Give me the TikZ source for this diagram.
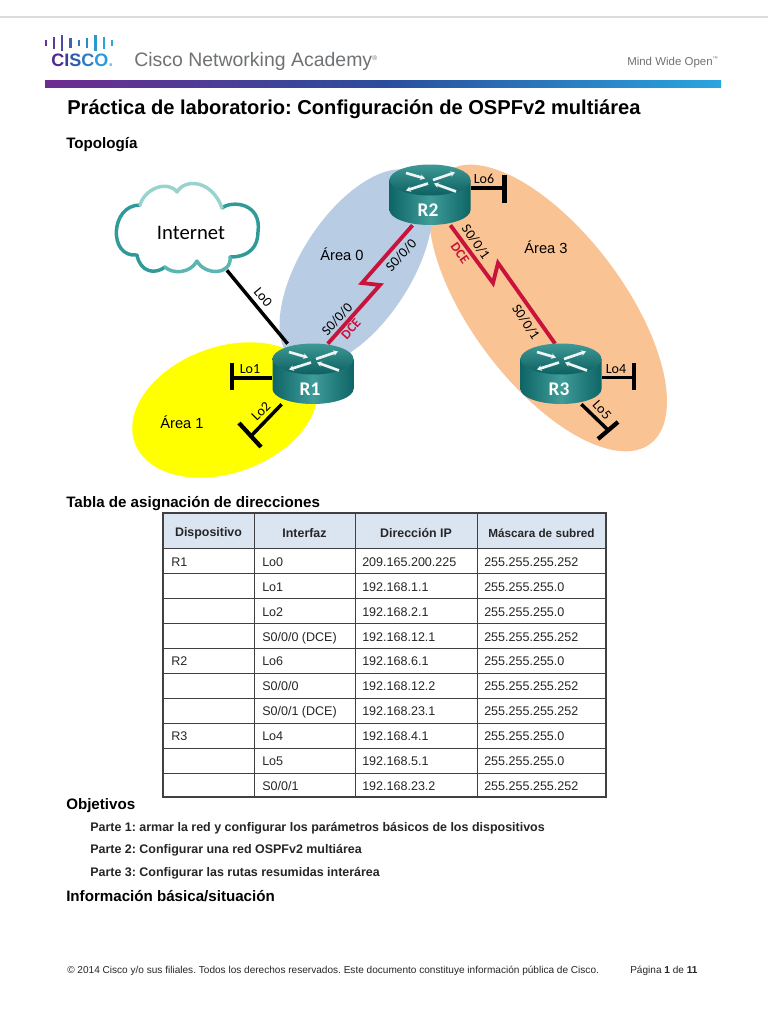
\documentclass[tikz,border=0pt]{standalone}
\usepackage{fontspec}
\setmainfont{Liberation Sans}
\newfontfamily\dfont{Carlito}
\usetikzlibrary{shapes.geometric,arrows.meta,calc}
\definecolor{lred}{HTML}{C8133A}
\definecolor{hdrfill}{HTML}{DBE5F1}
\definecolor{gr}{HTML}{6F7275}
\definecolor{rdark}{HTML}{0E6566}
\definecolor{rmid}{HTML}{3F9C99}
\definecolor{rtop}{HTML}{1C8782}
\definecolor{barA}{HTML}{6E2C8F}
\definecolor{barB}{HTML}{2A4D9C}
\definecolor{barC}{HTML}{2AA5DF}
\definecolor{areaO}{HTML}{F9C394}
\definecolor{areaB}{HTML}{B8CCE4}
\definecolor{areaY}{HTML}{FFFF00}
\definecolor{clA}{HTML}{2F9A98}
\definecolor{clB}{HTML}{5CB5B1}
\definecolor{clC}{HTML}{9AD3CE}
\tikzset{
  x=0.75pt,y=-0.75pt,
  areashape/.style={ellipse,inner sep=0pt,draw=none},
  routerbox/.style={rectangle,inner sep=0pt,minimum width=60.75pt,minimum height=45pt},
  cloudbox/.style={rectangle,inner sep=0pt,minimum width=106pt,minimum height=66pt},
  eth/.style={line width=2.6pt,black},
  tbar/.style={line width=3.2pt,black},
  serial/.style={line width=2.9pt,lred,line join=miter},
  dlabel/.style={font=\dfont\fontsize{10.5}{11}\selectfont,inner sep=0pt,text=black},
  dcelabel/.style={font=\dfont\bfseries\fontsize{10}{11}\selectfont,inner sep=0pt,text=lred},
  arealabel/.style={font=\fontsize{11}{12}\selectfont,inner sep=0pt},
  rlabel/.style={font=\dfont\bfseries\fontsize{14.5}{15}\selectfont,text=white,inner sep=0pt},
  rarrow/.style={white!92!teal,line width=2pt,-{Stealth[length=3.5pt,width=4.2pt]}},
  head/.style={anchor=base west,inner sep=0pt,font=\bfseries\fontsize{11.35}{13}\selectfont},
  parte/.style={anchor=base west,inner sep=0pt,font=\bfseries\fontsize{9.35}{11}\selectfont,text=black!85},
  cell/.style={anchor=base west,inner sep=0pt,font=\fontsize{9.4}{11}\selectfont,text=black!85},
  hcell/.style={anchor=center,inner sep=0pt,font=\bfseries\fontsize{9.3}{11}\selectfont,text=black!85},
  foot/.style={anchor=base west,inner sep=0pt,font=\fontsize{7.55}{9}\selectfont,text=black!85},
  cloudline/.style={line width=2.6pt,color=#1,line cap=round,line join=round},
  tline/.style={black!75,line width=0.75pt}
}
\newcommand{\routerdraw}[1]{%
  \begin{scope}[shift={(#1.center)}]
    \path[left color=rdark,right color=rdark,middle color=rmid]
      (-40.5,-15) -- (-40.5,15) arc[start angle=180,end angle=360,x radius=40.5,y radius=-15]
      -- (40.5,-15) -- cycle;
    \path[top color=rtop!85!white,bottom color=rdark!95!black]
      (0,-15) ellipse[x radius=40.5,y radius=15.5];
    \draw[rarrow] (-24,-22) -- (-5,-16.5);
    \draw[rarrow] (3,-15) -- (25,-22.5);
    \draw[rarrow] (-2,-11.5) -- (-24,-4.5);
    \draw[rarrow] (26,-3.5) -- (4,-11.5);
  \end{scope}}
\frenchspacing
\begin{document}
\begin{tikzpicture}
\useasboundingbox (0,0) rectangle (768,1024);
\fill[white] (0,0) rectangle (768,1024);
% header
\fill[black!14] (0,16.5) rectangle (768,18);
\foreach \bx/\bh/\bc in {46/6/6B2F95,54/12/5C3A9E,62/16/4B4AA6,70.7/10/3D63B2,79/6/3577BC,87/10/2F8BC8,95.7/16/2C98D2,104/12/2AA2DA,112/6/29A9E0}{
  \definecolor{tmpc}{HTML}{\bc}
  \fill[tmpc] (\bx-1.3,42.7-\bh/2) rectangle (\bx+1.3,42.7+\bh/2);
}
\definecolor{lgA}{HTML}{4F2A8E}\definecolor{lgB}{HTML}{3B3C98}\definecolor{lgC}{HTML}{2F5CAB}\definecolor{lgD}{HTML}{2B7CC2}\definecolor{lgE}{HTML}{2A9AD8}
\node (ciscotxt) [anchor=base west,inner sep=0pt,font=\bfseries\fontsize{13.5}{14}\selectfont] at (51,67)
  {\addfontfeatures{LetterSpace=9}\textcolor{lgA}{C}\textcolor{lgB}{I}\textcolor{lgC}{S}\textcolor{lgD}{C}\textcolor{lgE}{O}\textcolor{lgE!60}{.}};
\node (academy) [anchor=base west,inner sep=0pt,text=gr,font=\fontsize{14.6}{16}\selectfont] at (134,67) {Cisco Networking Academy\textsuperscript{\tiny ®}};
\node (mind) [anchor=base west,inner sep=0pt,text=gr,font=\fontsize{8.6}{10}\selectfont] at (627,66) {Mind Wide Open\textsuperscript{\fontsize{4}{4}\selectfont ™}};
\path[left color=barA,right color=barC,middle color=barB] (45,80.5) rectangle (721,88);
\node (title) [head,font=\bfseries\fontsize{15.08}{17}\selectfont] at (67,114) {Práctica de laboratorio: Configuración de OSPFv2 multiárea};
\node (topo) [head] at (66,148) {Topología};
% areas
\node (area3) [areashape,fill=areaO,rotate=-53,minimum width=255pt,minimum height=114pt] at (548,308) {};
\node (area0) [areashape,fill=areaB,rotate=57,minimum width=168pt,minimum height=82.5pt] at (356,268) {};
\node (area1) [areashape,fill=areaY,rotate=20,minimum width=144pt,minimum height=94.5pt] at (225,410) {};
% anchors for routers and cloud
\node (R1) [routerbox] at (313,374) {};
\node (R2) [routerbox] at (430,195) {};
\node (R3) [routerbox] at (561,374) {};
\node (cloud) [cloudbox] at (187,226) {};
% cloud outline
\draw[cloudline=clA] (165,267) .. controls (155,275) and (140,272) .. (137,255)
   .. controls (108,258) and (110,205) .. (140,205);
\draw[cloudline=clA] (222,208) .. controls (232,200) and (262,203) .. (258,232)
   .. controls (258,246) and (250,257) .. (230,257);
\draw[cloudline=clC] (140,205) .. controls (145,188) and (168,180) .. (177,192)
   .. controls (185,178) and (212,180) .. (222,208);
\draw[cloudline=clB] (230,257) .. controls (232,275) and (205,276) .. (197,261)
   .. controls (190,274) and (172,274) .. (165,267);
\node (inet) [dlabel,font=\dfont\fontsize{15.5}{16}\selectfont] at (191,233) {Internet};
% connectors
\draw[eth] (cloud.-48) -- (R1.130);
\coordinate (z1) at (380,285);
\coordinate (z2) at (362,283);
\coordinate (z3) at (498,263);
\coordinate (z4) at (493,283);
\draw[serial] (R1.64) -- (z1) -- (z2) -- (R2.240);
\draw[serial] (R2.-56) -- (z4) -- (z3) -- (R3.101);
\coordinate (t1) at (232,378);
\coordinate (t2) at (252,435);
\coordinate (t6) at (504.6,188);
\coordinate (t4) at (634,377.5);
\coordinate (t5) at (608,430);
\draw[eth] (R1.west |- t1) -- (t1);
\draw[eth] (R1.-136) -- (t2);
\draw[eth] (R2.east |- t6) -- (t6);
\draw[eth] (R3.east |- t4) -- (t4);
\draw[eth] (R3.-56) -- (t5);
\draw[tbar] (232,363) -- (232,390);
\draw[tbar] (239,423) -- (261,447);
\draw[tbar] (504.6,175) -- (504.6,203);
\draw[tbar] (634,363) -- (634,390);
\draw[tbar] (598,439) -- (618,422);
\routerdraw{R1}
\routerdraw{R2}
\routerdraw{R3}
\node (r1t) [rlabel] at (310,389) {R1};
\node (r2t) [rlabel] at (428,210) {R2};
\node (r3t) [rlabel] at (559,389) {R3};
% labels
\node (l0) [dlabel,rotate=-50] at (263,297) {Lo0};
\node (l1) [dlabel] at (250,369) {Lo1};
\node (l2) [dlabel,rotate=45] at (261,411) {Lo2};
\node (l6) [dlabel] at (484,179) {Lo6};
\node (l4) [dlabel] at (616,369) {Lo4};
\node (l5) [dlabel,rotate=-48] at (602,410) {Lo5};
\node (s1) [dlabel,rotate=48] at (337,319) {S0/0/0};
\node (d1) [dcelabel,rotate=48] at (351,329) {DCE};
\node (s2) [dlabel,rotate=48] at (401,255) {S0/0/0};
\node (s3) [dlabel,rotate=-55] at (476,242) {S0/0/1};
\node (d2) [dcelabel,rotate=-55] at (460,253) {DCE};
\node (s4) [dlabel,rotate=-57] at (526,322) {S0/0/1};
\node (a0) [arealabel] at (342,254) {Área 0};
\node (a1) [arealabel] at (182,422) {Área 1};
\node (a3) [arealabel] at (546,247) {Área 3};
% table
\node (tabh) [head] at (66,507) {Tabla de asignación de direcciones};
\fill[hdrfill] (163,513) rectangle (606,548);
\foreach \ly in {548,573.9,598.8,623.7,648.6,673.5,698.4,723.3,748.2,773.1}
  \draw[tline] (163,\ly) -- (606,\ly);
\foreach \lx in {254,355,477}
  \draw[tline] (\lx,513) -- (\lx,797);
\draw[tline,line width=0.9pt] (163,513) rectangle (606,797);
\node (h1) [hcell] at (208.5,533) {Dispositivo};
\node (h2) [hcell] at (304.5,533) {Interfaz};
\node (h3) [hcell] at (416,533) {Dirección IP};
\node (h4) [hcell,font=\bfseries\fontsize{8.8}{11}\selectfont] at (541.5,533) {Máscara de subred};
\foreach \yy/\ca/\cb/\cc/\cd in {
 566.5/R1/Lo0/209.165.200.225/255.255.255.252,
 591.5//Lo1/192.168.1.1/255.255.255.0,
 616.5//Lo2/192.168.2.1/255.255.255.0,
 641.5//S0\slash 0\slash 0 (DCE)/192.168.12.1/255.255.255.252,
 665.5/R2/Lo6/192.168.6.1/255.255.255.0,
 690.5//S0\slash 0\slash 0/192.168.12.2/255.255.255.252,
 715.5//S0\slash 0\slash 1 (DCE)/192.168.23.1/255.255.255.252,
 740.5/R3/Lo4/192.168.4.1/255.255.255.0,
 765.5//Lo5/192.168.5.1/255.255.255.0,
 790.5//S0\slash 0\slash 1/192.168.23.2/255.255.255.252}{
  \node[cell] at (171,\yy) {\ca};
  \node[cell] at (262,\yy) {\cb};
  \node[cell] at (362,\yy) {\cc};
  \node[cell] at (484,\yy) {\cd};
}
\node (obj) [head] at (66,809) {Objetivos};
\node (p1) [parte] at (90,831) {Parte 1: armar la red y configurar los parámetros básicos de los dispositivos};
\node (p2) [parte] at (90,853) {Parte 2: Configurar una red OSPFv2 multiárea};
\node (p3) [parte] at (90,876) {Parte 3: Configurar las rutas resumidas interárea};
\node (info) [head] at (66,901) {Información básica/situación};
\node (foot1) [foot] at (67,973) {© 2014 Cisco y/o sus filiales. Todos los derechos reservados. Este documento constituye información pública de Cisco.};
\node (foot2) [foot] at (630,973) {Página \textbf{1} de \textbf{11}};
\end{tikzpicture}
\end{document}
